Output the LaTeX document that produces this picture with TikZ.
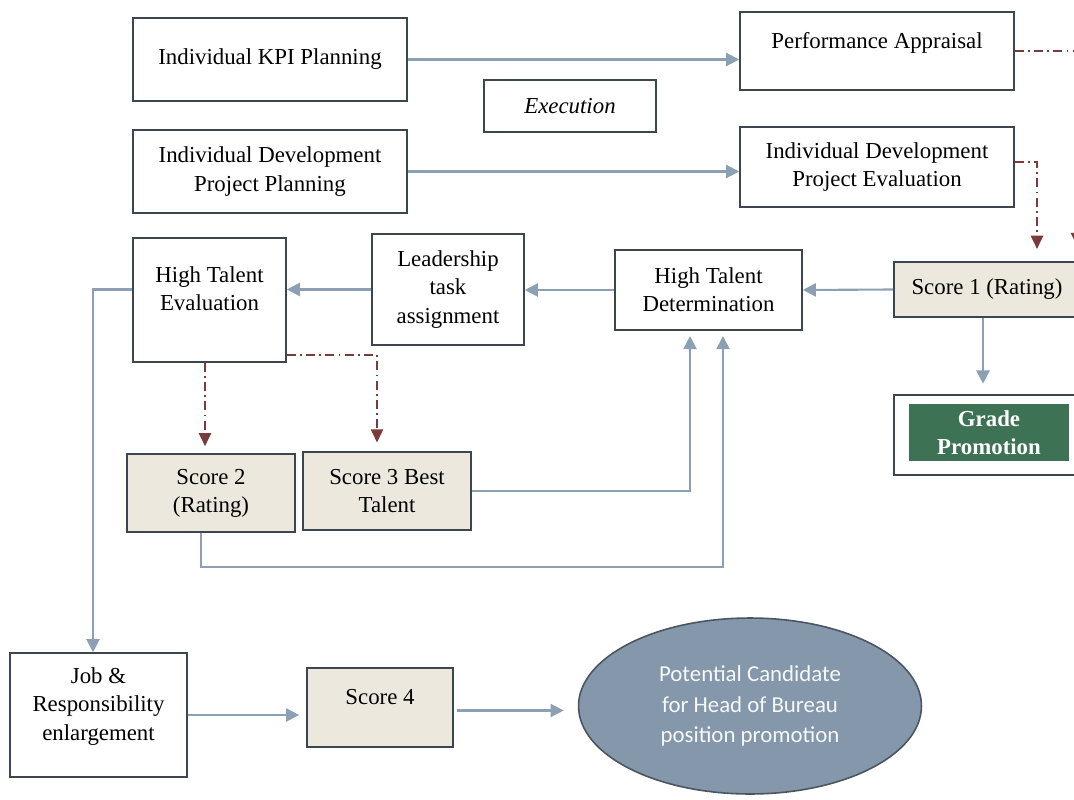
\documentclass[tikz,border=0pt]{standalone}
\usepackage{fontspec}
\setmainfont{Liberation Serif}
\newfontfamily\calfont{Carlito}
\usetikzlibrary{positioning,arrows.meta,calc,shapes.geometric}
\definecolor{boxline}{HTML}{3C4650}
\definecolor{flowblue}{HTML}{8CA0B4}
\definecolor{ddred}{HTML}{7A3B3B}
\definecolor{scorefill}{HTML}{ECE8DD}
\definecolor{gradegreen}{HTML}{3D7354}
\definecolor{candfill}{HTML}{8497AB}
\definecolor{candline}{HTML}{4A5560}

\begin{document}
\begin{tikzpicture}[
    x=0.02cm, y=-0.02cm,
    box/.style={draw=boxline, line width=0.9pt, fill=white, align=center, inner sep=2pt, font=\fontsize{13}{16}\selectfont},
    sbox/.style={box, fill=scorefill},
    raised/.style={text depth=12.5pt},
    flow/.style={-{Triangle[length=7.5pt,width=7.5pt]}, draw=flowblue, line width=1.2pt},
    ddarrow/.style={-{Triangle[length=7.5pt,width=7pt,fill=ddred]}, draw=ddred, dash pattern=on 5pt off 2.5pt on 1pt off 2.5pt, line width=0.9pt},
]
\useasboundingbox (0,0) rectangle (1074,800);

% Planning
\node[box, minimum width=5.48cm, minimum height=1.66cm] (kpi) at (270,59.5) {Individual KPI Planning};
\node[box, minimum width=5.48cm, minimum height=1.66cm] (idpplan) at (270,171.5) {Individual Development\\Project Planning};
\node[box, minimum width=3.44cm, minimum height=1.04cm, font=\fontsize{13}{16}\selectfont\itshape] (exec) at (570,106) {Execution};

% Evaluation
\node[box, raised, minimum width=5.48cm, minimum height=1.56cm] (perf) at (877,51) {Performance Appraisal};
\node[box, minimum width=5.48cm, minimum height=1.6cm] (ideval) at (877,167) {Individual Development\\Project Evaluation};

% Talent row
\node[sbox, minimum width=3.72cm, minimum height=1.1cm] (score1) at (987,289.5) {Score 1 (Rating)};
\node[box, minimum width=3.74cm, minimum height=1.6cm] (htd) at (708.5,290) {High Talent\\Determination};
\node[box, minimum width=3.04cm, minimum height=2.22cm] (lead) at (448,289.5) {Leadership\\task\\assignment};
\node[box, raised, minimum width=3.06cm, minimum height=2.48cm] (hte) at (209.5,300) {High Talent\\Evaluation};

% Grade promotion
\node[box, minimum width=3.72cm, minimum height=1.6cm] (gradebox) at (987,435) {};
\node[fill=gradegreen, text=white, align=center, minimum width=3.2cm, minimum height=1.14cm, inner sep=0pt, font=\fontsize{13}{16}\selectfont\bfseries] (grade) at (989,432.5) {Grade\\Promotion};

% Scores 2 and 3
\node[sbox, minimum width=3.36cm, minimum height=1.56cm] (score2) at (211,493) {Score 2\\(Rating)};
\node[sbox, minimum width=3.36cm, minimum height=1.56cm] (score3) at (387,491) {Score 3 Best\\Talent};

% Bottom row
\node[box, raised, minimum width=3.54cm, minimum height=2.48cm] (job) at (98.5,715) {Job \&\\Responsibility\\enlargement};
\node[sbox, raised, minimum width=2.92cm, minimum height=1.58cm] (score4) at (380,707.5) {Score 4};
\node[ellipse, draw=candline, line width=0.9pt, fill=candfill, text=white!93!candfill, align=center, minimum width=6.86cm, minimum height=3.52cm, inner sep=0pt, font=\calfont\fontsize{13}{17.5}\selectfont] (cand) at (750,706) {Potential Candidate\\for Head of Bureau\\position promotion};

% Flow arrows
\draw[flow] (kpi.east) -- (kpi.east -| perf.west);
\draw[flow] (idpplan.east) -- (idpplan.east -| ideval.west);
\draw[flow] (score1.west) -- (htd.east);
\draw[flow] (htd.west) -- (htd.west -| lead.east);
\draw[flow] (lead.west) -- (lead.west -| hte.east);
\draw[flow] (hte.west |- lead.west) -| ([xshift=-0.11cm]job.north);
\draw[flow, shorten >=3pt] (score3.east) -| ([xshift=-0.37cm]htd.south);
\coordinate (bend) at (723,567);
\draw[flow, shorten >=3pt] ([xshift=-0.2cm]score2.south) |- (bend) -- (bend |- htd.south);
\draw[flow, shorten >=6pt] ([xshift=-0.08cm]score1.south) -- ([xshift=-0.08cm]gradebox.north);
\draw[flow, shorten >=4pt] (job.east) -- (job.east -| score4.west);
\draw[flow, shorten >=8pt, shorten <=2pt] ([yshift=-0.06cm]score4.east) -- ([yshift=-0.06cm]score4.east -| cand.west);

% Rating links
\coordinate (offright) at (1077,246);
\draw[ddarrow] (perf.east) -| (offright);
\draw[ddarrow, shorten >=7pt] ([yshift=0.1cm]ideval.east) -| ([xshift=1cm]score1.north);
\draw[ddarrow, shorten >=4pt] ([xshift=-0.09cm]hte.south) -- ([xshift=-0.09cm]hte.south |- score2.north);
\draw[ddarrow, shorten >=5pt] ([yshift=-1.1cm]hte.east) -| ([xshift=-0.2cm]score3.north);
\end{tikzpicture}
\end{document}
